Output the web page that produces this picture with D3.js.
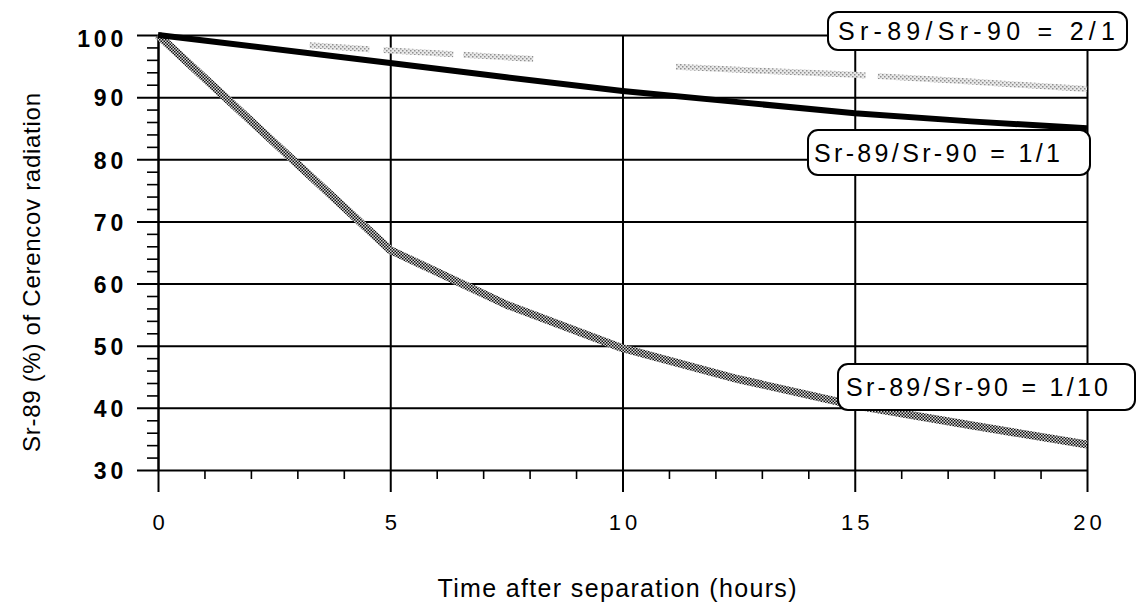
<!DOCTYPE html>
<html>
<head>
<meta charset="utf-8">
<script src="https://cdn.jsdelivr.net/npm/d3@7"></script>
<style>
  html, body { margin: 0; padding: 0; background: #fff; }
  svg { display: block; font-family: "Liberation Sans", Arial, Helvetica, sans-serif; }
</style>
</head>
<body>
<svg id="chart" width="1141" height="609"></svg>
<script>
// Data (hours after separation vs Sr-89 share, %)
const hours = [0, 5, 7.5, 10, 12.5, 15, 17.5, 20];
const ratio2to1 = [100, 97.5, 96.4, 95.3, 94.4, 93.6, 92.5, 91.3];
const ratio1to1 = [100, 95.5, 93.2, 91.0, 89.2, 87.4, 86.1, 85.0];
const ratio1to10 = [100, 65.4, 56.6, 49.6, 44.6, 40.4, 37.2, 34.1];

const seriesNames = ['Sr-89/Sr-90 = 2/1', 'Sr-89/Sr-90 = 1/1', 'Sr-89/Sr-90 = 1/10'];
const xMajorTicks = [0, 5, 10, 15, 20];
const yMajorTicks = [30, 40, 50, 60, 70, 80, 90, 100];

const svg = d3.select('#chart');

// Plot frame
const plotLeft = 158, plotRight = 1087, plotTop = 35, plotBottom = 470;
const x = d3.scaleLinear().domain([0, 20]).range([plotLeft, plotRight]);
const y = d3.scaleLinear().domain([30, 100]).range([plotBottom, plotTop]);

// Stipple patterns for the grey curves
const defs = svg.append('defs');
const dark = defs.append('pattern').attr('id', 'stipDark')
  .attr('width', 3).attr('height', 3).attr('patternUnits', 'userSpaceOnUse');
dark.append('rect').attr('width', 3).attr('height', 3).attr('fill', '#d8d8d8');
dark.append('rect').attr('x', 0).attr('y', 0).attr('width', 1.5).attr('height', 1.5).attr('fill', '#111');
dark.append('rect').attr('x', 1.5).attr('y', 1.5).attr('width', 1.5).attr('height', 1.5).attr('fill', '#111');

const light = defs.append('pattern').attr('id', 'stipLight')
  .attr('width', 4).attr('height', 4).attr('patternUnits', 'userSpaceOnUse');
light.append('rect').attr('width', 4).attr('height', 4).attr('fill', '#e8e8e8');
light.append('rect').attr('x', 0).attr('y', 0).attr('width', 1.5).attr('height', 1.5).attr('fill', '#8f8f8f');
light.append('rect').attr('x', 2).attr('y', 2).attr('width', 1.5).attr('height', 1.5).attr('fill', '#8f8f8f');

// Y axis: major gridlines reach 21px left of the frame
const yAxis = d3.axisLeft(y).tickValues(yMajorTicks)
  .tickSizeInner(-(plotRight - plotLeft + 21)).tickSizeOuter(0).tickPadding(10);
const gy = svg.append('g').attr('transform', `translate(${plotLeft - 21},0)`).call(yAxis);
gy.select('.domain').remove();
gy.selectAll('.tick line').attr('stroke', '#000').attr('stroke-width', 2);
gy.selectAll('.tick text')
  .attr('fill', '#000').attr('font-size', '23px').attr('font-weight', 'bold')
  .attr('letter-spacing', '3.8px').attr('dy', d => d === 100 ? '0.52em' : '0.38em')
  .attr('font-family', '"Liberation Sans", Arial, sans-serif');

// Y minor ticks every 2 units
const yMinor = d3.range(30, 100, 2).filter(v => v % 10 !== 0);
const gym = svg.append('g').attr('transform', `translate(${plotLeft},0)`)
  .call(d3.axisLeft(y).tickValues(yMinor).tickSizeInner(11).tickSizeOuter(0).tickFormat(''));
gym.select('.domain').attr('stroke', '#000').attr('stroke-width', 2);
gym.selectAll('.tick line').attr('stroke', '#000').attr('stroke-width', 1.6);

// X axis: vertical gridlines from top to 22px below the frame
const xAxis = d3.axisBottom(x).tickValues(xMajorTicks)
  .tickSizeInner(plotBottom - plotTop + 22).tickSizeOuter(0).tickPadding(22);
const gx = svg.append('g').attr('transform', `translate(0,${plotTop})`).call(xAxis);
gx.select('.domain').remove();
gx.selectAll('.tick line').attr('stroke', '#000').attr('stroke-width', 2);
gx.selectAll('.tick text')
  .attr('fill', '#000').attr('font-size', '22px')
  .attr('letter-spacing', '4px').attr('dx', '2px')
  .attr('font-family', '"Liberation Sans", Arial, sans-serif');

// X minor ticks every hour
const xMinor = d3.range(1, 20).filter(v => v % 5 !== 0);
const gxm = svg.append('g').attr('transform', `translate(0,${plotBottom})`)
  .call(d3.axisBottom(x).tickValues(xMinor).tickSizeInner(9).tickSizeOuter(0).tickFormat(''));
gxm.select('.domain').remove();
gxm.selectAll('.tick line').attr('stroke', '#000').attr('stroke-width', 1.6);

// Curves
const line = d3.line().x(d => x(d[0])).y(d => y(d[1]));
const pts = vals => hours.map((h, i) => [h, vals[i]]);

svg.append('path').datum(pts(ratio2to1))
  .attr('d', line).attr('fill', 'none')
  .attr('stroke', 'url(#stipLight)').attr('stroke-width', 6)
  .attr('stroke-dasharray', '0 152 60 14 70 10 70 143 190 12 240');

svg.append('path').datum(pts(ratio1to10))
  .attr('d', line).attr('fill', 'none')
  .attr('stroke', 'url(#stipDark)').attr('stroke-width', 8)
  .attr('stroke-linejoin', 'round');

svg.append('path').datum(pts(ratio1to1))
  .attr('d', line).attr('fill', 'none')
  .attr('stroke', '#000').attr('stroke-width', 6)
  .attr('stroke-linejoin', 'round');

// Rounded label boxes
const boxes = [
  { text: seriesNames[0], x0: 828, y0: 12, w: 299, h: 38, tx: 838, tw: 277 },
  { text: seriesNames[1], x0: 808, y0: 130, w: 282, h: 45, tx: 814, tw: 246 },
  { text: seriesNames[2], x0: 838, y0: 364, w: 297, h: 46, tx: 846, tw: 262 }
];
boxes.forEach(b => {
  svg.append('rect')
    .attr('x', b.x0).attr('y', b.y0).attr('width', b.w).attr('height', b.h)
    .attr('rx', 10).attr('ry', 10)
    .attr('fill', '#fff').attr('stroke', '#000').attr('stroke-width', 2);
  svg.append('text')
    .attr('x', b.tx).attr('y', b.y0 + b.h / 2 + 9)
    .attr('font-size', '25px').attr('fill', '#000')
    .attr('textLength', b.tw).attr('lengthAdjust', 'spacing')
    .text(b.text);
});

// Axis titles
svg.append('text')
  .attr('transform', `translate(40,${(93 + 452) / 2}) rotate(-90)`)
  .attr('text-anchor', 'middle').attr('font-size', '24px').attr('fill', '#000')
  .attr('textLength', 359).attr('lengthAdjust', 'spacing')
  .text('Sr-89 (%) of Cerencov radiation');

svg.append('text')
  .attr('x', 617).attr('y', 597)
  .attr('text-anchor', 'middle').attr('font-size', '25px').attr('fill', '#000')
  .attr('textLength', 359).attr('lengthAdjust', 'spacing')
  .text('Time after separation (hours)');
</script>
</body>
</html>
